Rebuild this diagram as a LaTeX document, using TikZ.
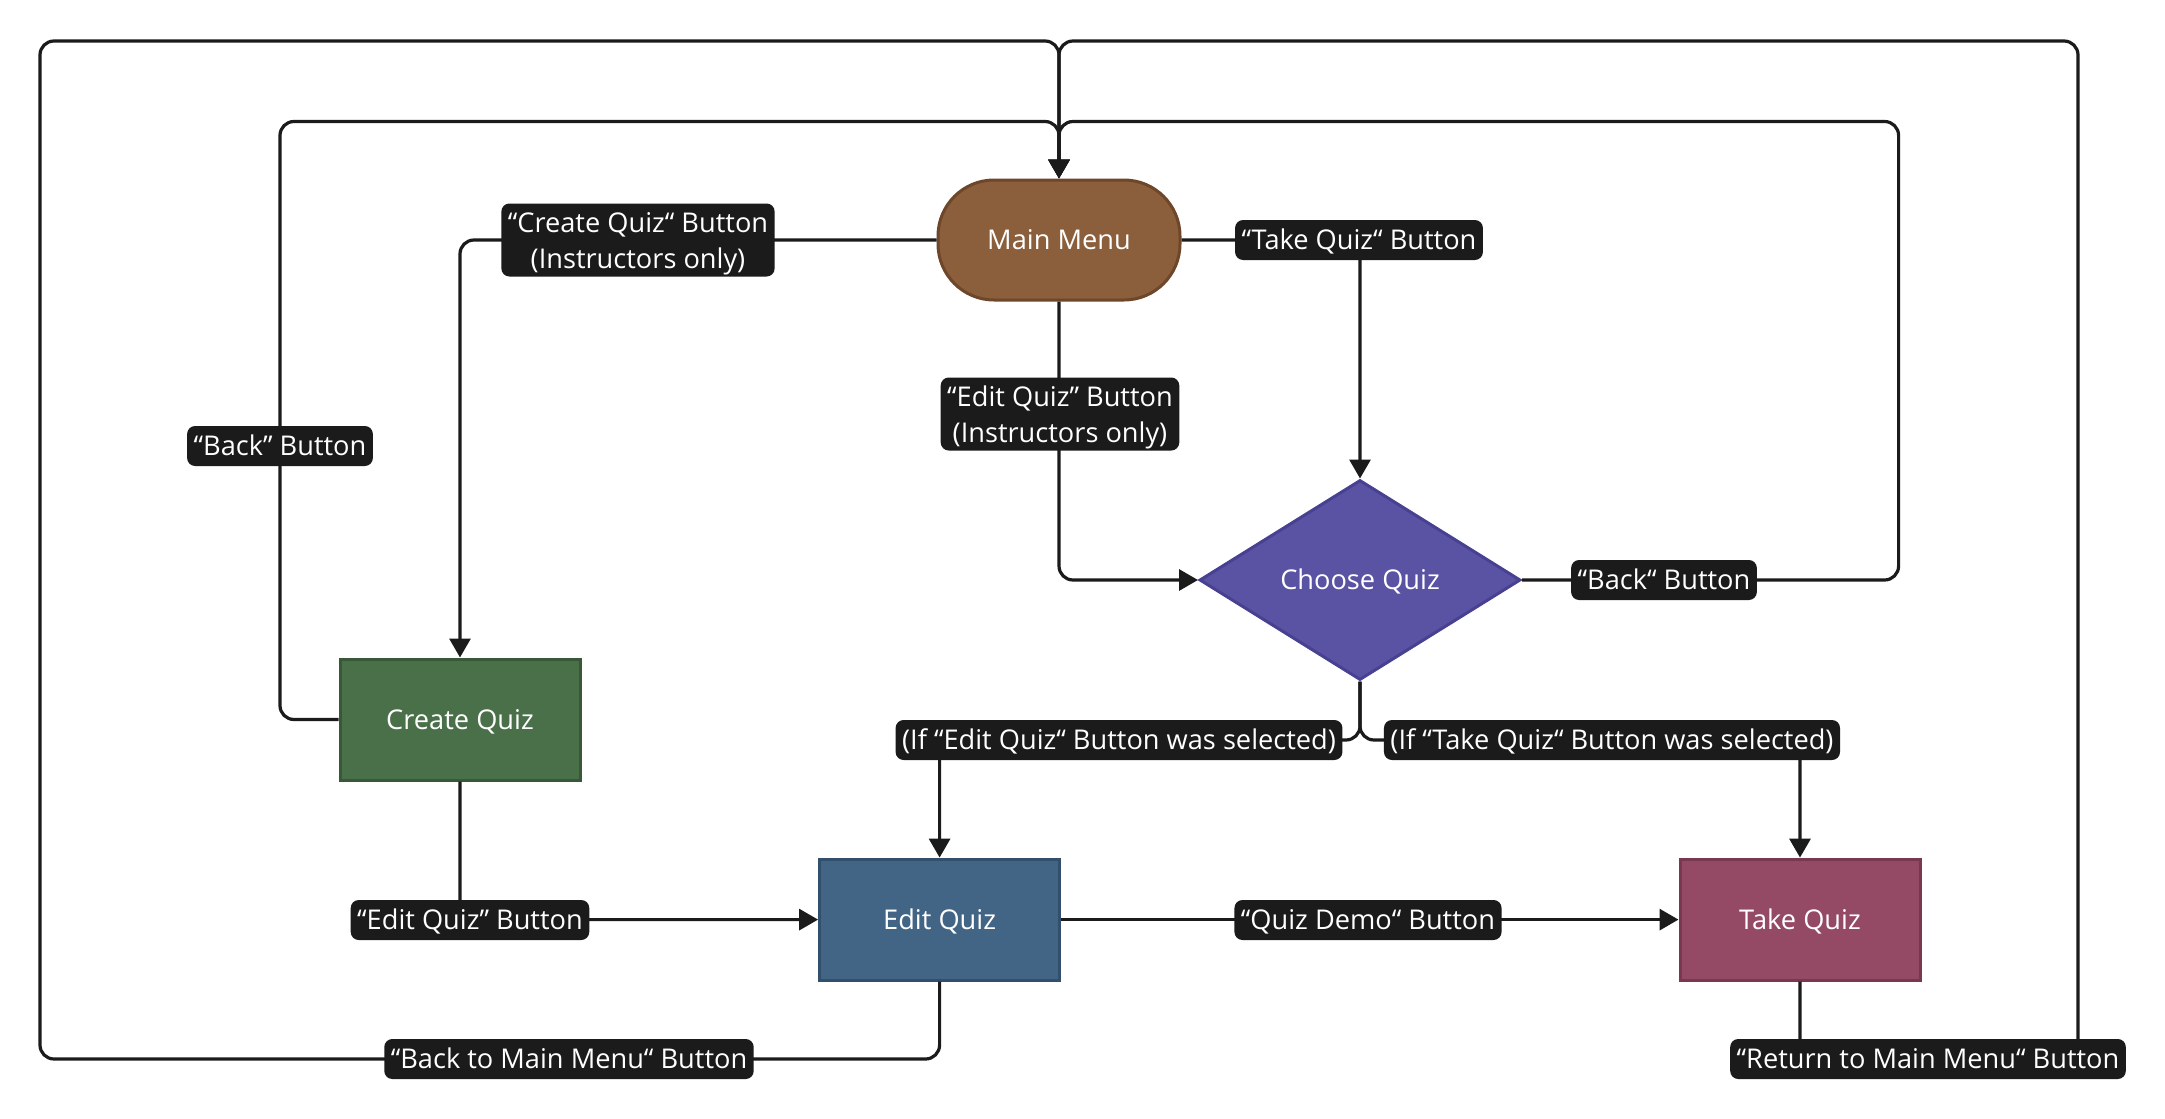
\documentclass[tikz,border=0pt]{standalone}
\usepackage{fontspec}
\setmainfont{Open Sans}
\usetikzlibrary{arrows.meta,shapes.geometric}
\definecolor{ink}{HTML}{1B1B1B}
\definecolor{mmfill}{HTML}{8B5E3C}
\definecolor{mmdraw}{HTML}{6E4629}
\definecolor{chfill}{HTML}{5A53A3}
\definecolor{chdraw}{HTML}{484191}
\definecolor{crfill}{HTML}{4A704A}
\definecolor{crdraw}{HTML}{385838}
\definecolor{edfill}{HTML}{436585}
\definecolor{eddraw}{HTML}{324F6B}
\definecolor{tkfill}{HTML}{944A64}
\definecolor{tkdraw}{HTML}{773850}
\begin{document}
\begin{tikzpicture}[x=0.5pt,y=-0.5pt,
  font=\fontsize{13.6pt}{18pt}\selectfont,
  proc/.style={draw, line width=1.5pt, text=white, minimum width=120pt, minimum height=60.5pt, inner sep=0pt, text height=10.4pt, text depth=0.6pt},
  lbl/.style={fill=ink, text=white, rounded corners=4pt, inner xsep=3.25pt, inner ysep=0pt, minimum height=20pt, align=center, text height=13pt, text depth=3.3pt},
  lbl2/.style={fill=ink, text=white, rounded corners=4pt, inner xsep=3.25pt, inner ysep=0pt, minimum height=36.5pt, align=center, text height=31.5pt, text depth=3.3pt},
  conn/.style={draw=ink, line width=1.6pt, rounded corners=7pt},
  arr/.style={conn, -{Triangle[width=10.5pt,length=9.5pt]}}]
\useasboundingbox[fill=white] (0,0) rectangle (2165,1119);

% nodes
\node[proc, fill=mmfill, draw=mmdraw, rounded corners=28pt, minimum width=121pt, minimum height=60pt] (mm) at (1059,240) {Main Menu};
\node[diamond, draw=chdraw, fill=chfill, line width=1.5pt, text=white, minimum width=160.5pt, minimum height=100pt, inner sep=0pt, text height=10.4pt, text depth=0.6pt] (ch) at (1360,580) {Choose Quiz};
\node[proc, fill=crfill, draw=crdraw] (cr) at (460,719.5) {Create Quiz};
\node[proc, fill=edfill, draw=eddraw] (ed) at (939.6,919.6) {Edit Quiz};
\node[proc, fill=tkfill, draw=tkdraw] (tk) at (1800,919.6) {Take Quiz};

% corner coordinates
\coordinate (inL) at (280,121.5);
\coordinate (inR) at (1898.6,121.5);
\coordinate (outBL) at (40,1059);
\coordinate (outBR) at (2078,1059);
\coordinate (outT) at (1059,41);
\coordinate (split) at (1360,740);

% connectors
\draw[arr] (mm.west) -| (cr.north);
\draw[arr] (mm.south) |- (ch.west);
\draw[arr] (mm.east) -| (ch.north);
\draw[arr] (cr.west) -| (inL) -| (mm.north);
\draw[arr] (ch.east) -| (inR) -| (mm.north);
\draw[arr] (ed.south) |- (outBL) |- (outT) -- (mm.north);
\draw[arr] (tk.south) |- (outBR) |- (outT) -- (mm.north);
\draw[arr] (ch.south) -- (split) -| (ed.north);
\draw[arr] (ch.south) -- (split) -| (tk.north);
\draw[arr] (cr.south) |- (ed.west);
\draw[arr] (ed.east) -- (tk.west);

% labels
\node[lbl2] (l1) at (638,240) {“Create Quiz“ Button\\(Instructors only)};
\node[lbl2] (l2) at (1060,414) {“Edit Quiz” Button\\(Instructors only)};
\node[lbl] (l3) at (1359,240) {“Take Quiz“ Button};
\node[lbl] (l4) at (280,446) {“Back” Button};
\node[lbl] (l5) at (1664,580) {“Back“ Button};
\node[lbl] (l6) at (1119,740) {(If “Edit Quiz“ Button was selected)};
\node[lbl] (l7) at (1612,740) {(If “Take Quiz“ Button was selected)};
\node[lbl] (l8) at (470,920) {“Edit Quiz” Button};
\node[lbl] (l9) at (1368,920) {“Quiz Demo“ Button};
\node[lbl] (l10) at (569,1059) {“Back to Main Menu“ Button};
\node[lbl] (l11) at (1928,1059) {“Return to Main Menu“ Button};
\end{tikzpicture}
\end{document}
